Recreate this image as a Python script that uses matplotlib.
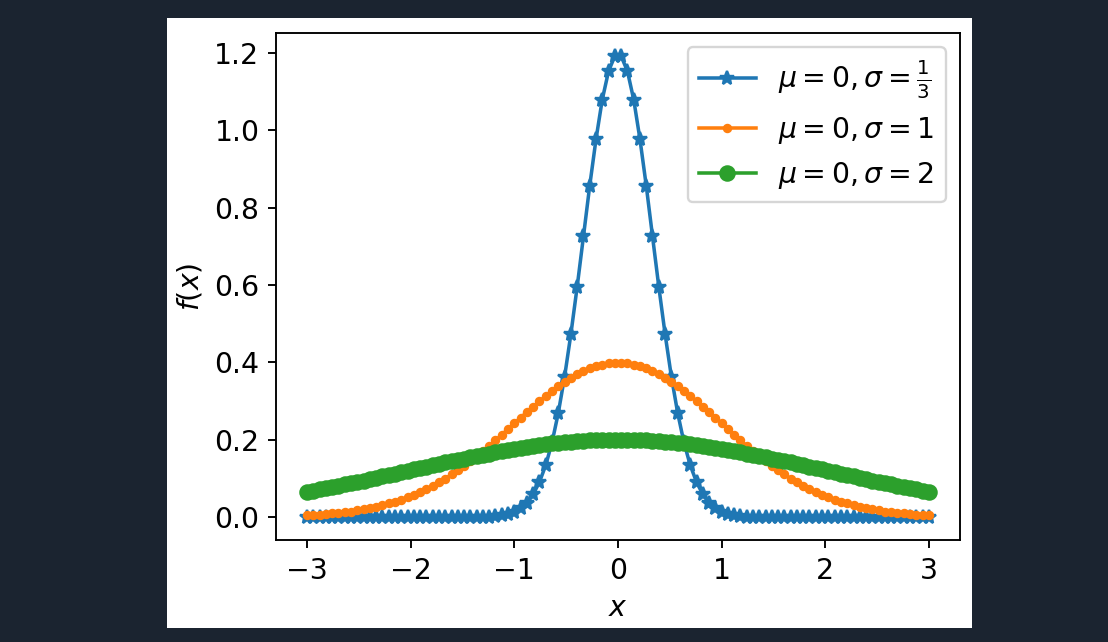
import numpy as np
import matplotlib
matplotlib.use("Agg")
import matplotlib.pyplot as plt
from matplotlib.patches import Rectangle

# sample points (100 evenly spaced on [-3, 3])
x = [-3.000, -2.939, -2.879, -2.818, -2.758, -2.697, -2.636, -2.576, -2.515, -2.455,
     -2.394, -2.333, -2.273, -2.212, -2.152, -2.091, -2.030, -1.970, -1.909, -1.848,
     -1.788, -1.727, -1.667, -1.606, -1.545, -1.485, -1.424, -1.364, -1.303, -1.242,
     -1.182, -1.121, -1.061, -1.000, -0.939, -0.879, -0.818, -0.758, -0.697, -0.636,
     -0.576, -0.515, -0.455, -0.394, -0.333, -0.273, -0.212, -0.152, -0.091, -0.030,
     0.030, 0.091, 0.152, 0.212, 0.273, 0.333, 0.394, 0.455, 0.515, 0.576,
     0.636, 0.697, 0.758, 0.818, 0.879, 0.939, 1.000, 1.061, 1.121, 1.182,
     1.242, 1.303, 1.364, 1.424, 1.485, 1.545, 1.606, 1.667, 1.727, 1.788,
     1.848, 1.909, 1.970, 2.030, 2.091, 2.152, 2.212, 2.273, 2.333, 2.394,
     2.455, 2.515, 2.576, 2.636, 2.697, 2.758, 2.818, 2.879, 2.939, 3.000]

# sigma = 1/3
y_third = [0.000, 0.000, 0.000, 0.000, 0.000, 0.000, 0.000, 0.000, 0.000, 0.000,
           0.000, 0.000, 0.000, 0.000, 0.000, 0.000, 0.000, 0.000, 0.000, 0.000,
           0.000, 0.000, 0.000, 0.000, 0.000, 0.000, 0.000, 0.000, 0.001, 0.001,
           0.002, 0.004, 0.008, 0.013, 0.023, 0.037, 0.059, 0.090, 0.134, 0.193,
           0.269, 0.363, 0.472, 0.595, 0.726, 0.856, 0.977, 1.079, 1.153, 1.192,
           1.192, 1.153, 1.079, 0.977, 0.856, 0.726, 0.595, 0.472, 0.363, 0.269,
           0.193, 0.134, 0.090, 0.059, 0.037, 0.023, 0.013, 0.008, 0.004, 0.002,
           0.001, 0.001, 0.000, 0.000, 0.000, 0.000, 0.000, 0.000, 0.000, 0.000,
           0.000, 0.000, 0.000, 0.000, 0.000, 0.000, 0.000, 0.000, 0.000, 0.000,
           0.000, 0.000, 0.000, 0.000, 0.000, 0.000, 0.000, 0.000, 0.000, 0.000]

# sigma = 1
y_one = [0.004, 0.005, 0.006, 0.008, 0.009, 0.011, 0.012, 0.014, 0.017, 0.020,
         0.023, 0.026, 0.030, 0.035, 0.039, 0.045, 0.051, 0.057, 0.064, 0.072,
         0.081, 0.090, 0.099, 0.110, 0.121, 0.132, 0.145, 0.157, 0.171, 0.184,
         0.198, 0.213, 0.227, 0.242, 0.257, 0.271, 0.285, 0.299, 0.313, 0.326,
         0.338, 0.349, 0.360, 0.369, 0.377, 0.384, 0.390, 0.394, 0.397, 0.399,
         0.399, 0.397, 0.394, 0.390, 0.384, 0.377, 0.369, 0.360, 0.349, 0.338,
         0.326, 0.313, 0.299, 0.285, 0.271, 0.257, 0.242, 0.227, 0.213, 0.198,
         0.184, 0.171, 0.157, 0.145, 0.132, 0.121, 0.110, 0.099, 0.090, 0.081,
         0.072, 0.064, 0.057, 0.051, 0.045, 0.039, 0.035, 0.030, 0.026, 0.023,
         0.020, 0.017, 0.014, 0.012, 0.011, 0.009, 0.008, 0.006, 0.005, 0.004]

# sigma = 2
y_two = [0.065, 0.068, 0.071, 0.074, 0.077, 0.080, 0.084, 0.087, 0.090, 0.094,
         0.097, 0.101, 0.105, 0.108, 0.112, 0.115, 0.119, 0.123, 0.126, 0.130,
         0.134, 0.137, 0.141, 0.144, 0.148, 0.151, 0.155, 0.158, 0.161, 0.164,
         0.168, 0.170, 0.173, 0.176, 0.179, 0.181, 0.183, 0.186, 0.188, 0.190,
         0.191, 0.193, 0.194, 0.196, 0.197, 0.198, 0.198, 0.199, 0.199, 0.199,
         0.199, 0.199, 0.199, 0.198, 0.198, 0.197, 0.196, 0.194, 0.193, 0.191,
         0.190, 0.188, 0.186, 0.183, 0.181, 0.179, 0.176, 0.173, 0.170, 0.168,
         0.164, 0.161, 0.158, 0.155, 0.151, 0.148, 0.144, 0.141, 0.137, 0.134,
         0.130, 0.126, 0.123, 0.119, 0.115, 0.112, 0.108, 0.105, 0.101, 0.097,
         0.094, 0.090, 0.087, 0.084, 0.080, 0.077, 0.074, 0.071, 0.068, 0.065]

labels = [r"$\mu=0,\sigma=\frac{1}{3}$", r"$\mu=0,\sigma=1$", r"$\mu=0,\sigma=2$"]

plt.rcParams["font.size"] = 12

dpi = 170
fig = plt.figure(figsize=(1108 / dpi, 642 / dpi), dpi=dpi, facecolor="#1b2430")
# white area of the notebook output
fig.add_artist(Rectangle((0.1507, 0.0218), 0.7266, 0.9502, transform=fig.transFigure,
                         facecolor="white", edgecolor="none", zorder=0))
ax = fig.add_axes([0.2491, 0.1589, 0.6173, 0.7897])

ax.plot(x, y_third, marker="*", label=labels[0])
ax.plot(x, y_one, marker=".", label=labels[1])
ax.plot(x, y_two, marker="o", label=labels[2])

ax.set_xlabel(r"$x$")
ax.set_ylabel(r"$f(x)$")
ax.legend(loc="upper right")

fig.savefig("out.png", dpi=dpi, facecolor=fig.get_facecolor())
